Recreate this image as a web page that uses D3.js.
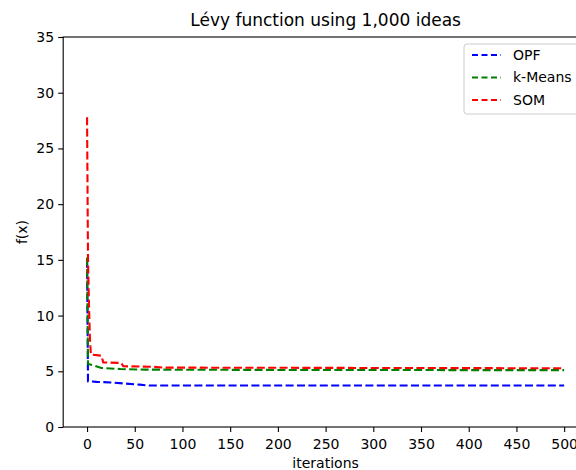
<!DOCTYPE html>
<html>
<head>
    <meta charset="utf-8">
    <title>Levy function</title>
    <script src="https://cdnjs.cloudflare.com/ajax/libs/d3/7.8.5/d3.min.js"></script>
    <style>
        body { margin: 0; background: #fff; }
        text { font-family: "DejaVu Sans", sans-serif; fill: #000; }
    </style>
</head>
<body>
<script type="text/javascript">
    // key points: [iteration, f(x)]
    var opf = [[0, 15.0], [1, 4.1], [10, 4.05], [25, 4.0], [40, 3.9], [55, 3.8], [65, 3.72], [500, 3.72]];
    var kmeans = [[0, 15.2], [1, 5.65], [8, 5.5], [15, 5.3], [35, 5.2], [60, 5.15], [200, 5.12], [500, 5.1]];
    var som = [[0, 27.8], [1, 15], [2, 11], [3, 8], [4, 6.5], [15, 6.4], [17, 5.8], [36, 5.75], [38, 5.45], [70, 5.4], [80, 5.33], [500, 5.27]];

    var seriesNames = ["OPF", "k-Means", "SOM"];
    var seriesColors = ["#0000ff", "#008000", "#ff0000"];
    var xTicks = [0, 50, 100, 150, 200, 250, 300, 350, 400, 450, 500];
    var yTicks = [0, 5, 10, 15, 20, 25, 30, 35];

    var width = 576, height = 470,
        axLeft = 63.2, axRight = 588, axTop = 37, axBottom = 427;

    var svg = d3.select("body").append("svg")
        .attr("width", width)
        .attr("height", height);

    var x = d3.scaleLinear().domain([-25, 525]).range([axLeft, axRight]);
    var y = d3.scaleLinear().domain([0, 35]).range([axBottom, axTop]);

    var xAxis = d3.axisBottom(x).tickValues(xTicks).tickSizeOuter(0).tickSize(5).tickPadding(4);
    var yAxis = d3.axisLeft(y).tickValues(yTicks).tickSizeOuter(0).tickSize(5).tickPadding(4);

    var gx = svg.append("g")
        .attr("transform", "translate(0," + axBottom + ")")
        .call(xAxis);
    var gy = svg.append("g")
        .attr("transform", "translate(" + axLeft + ",0)")
        .call(yAxis);

    [gx, gy].forEach(function (g) {
        g.select(".domain").remove();
        g.selectAll(".tick line").attr("stroke", "#000").attr("stroke-width", 1.1);
        g.selectAll(".tick text").style("font-size", "14px").attr("fill", "#000");
    });
    gx.selectAll(".tick text").attr("dy", "0.95em");

    // spines (right one falls outside the picture)
    svg.append("rect")
        .attr("x", axLeft).attr("y", axTop)
        .attr("width", axRight - axLeft).attr("height", axBottom - axTop)
        .attr("fill", "none").attr("stroke", "#000").attr("stroke-width", 1.1);

    var line = d3.line()
        .x(function (d) { return x(d[0]); })
        .y(function (d) { return y(d[1]); });

    var plot = svg.append("g");
    [opf, kmeans, som].forEach(function (data, i) {
        plot.append("path")
            .datum(data)
            .attr("d", line)
            .attr("fill", "none")
            .attr("stroke", seriesColors[i])
            .attr("stroke-width", 2.1)
            .attr("stroke-dasharray", "8,3.4");
    });

    svg.append("text")
        .attr("x", (axLeft + axRight) / 2).attr("y", 26)
        .attr("text-anchor", "middle")
        .style("font-size", "17px")
        .text("Lévy function using 1,000 ideas");

    svg.append("text")
        .attr("x", (axLeft + axRight) / 2).attr("y", 468)
        .attr("text-anchor", "middle")
        .style("font-size", "14px")
        .text("iterations");

    svg.append("text")
        .attr("transform", "translate(27," + (axTop + axBottom) / 2 + ") rotate(-90)")
        .attr("text-anchor", "middle")
        .style("font-size", "14px")
        .text("f(x)");

    // legend
    var legend = svg.append("g").attr("transform", "translate(464,44)");
    legend.append("rect")
        .attr("width", 140).attr("height", 70)
        .attr("rx", 3)
        .attr("fill", "#fff").attr("fill-opacity", 0.8)
        .attr("stroke", "#cccccc").attr("stroke-width", 1);

    var items = legend.selectAll("g.item")
        .data(seriesNames)
        .enter().append("g")
        .attr("class", "item")
        .attr("transform", function (d, i) { return "translate(0," + (11 + i * 22.5) + ")"; });
    items.append("line")
        .attr("x1", 8).attr("x2", 37)
        .attr("stroke", function (d, i) { return seriesColors[i]; })
        .attr("stroke-width", 2.1)
        .attr("stroke-dasharray", "6,3.5");
    items.append("text")
        .attr("x", 49).attr("dy", "0.35em")
        .style("font-size", "14px")
        .text(function (d) { return d; });
</script>
</body>
</html>
